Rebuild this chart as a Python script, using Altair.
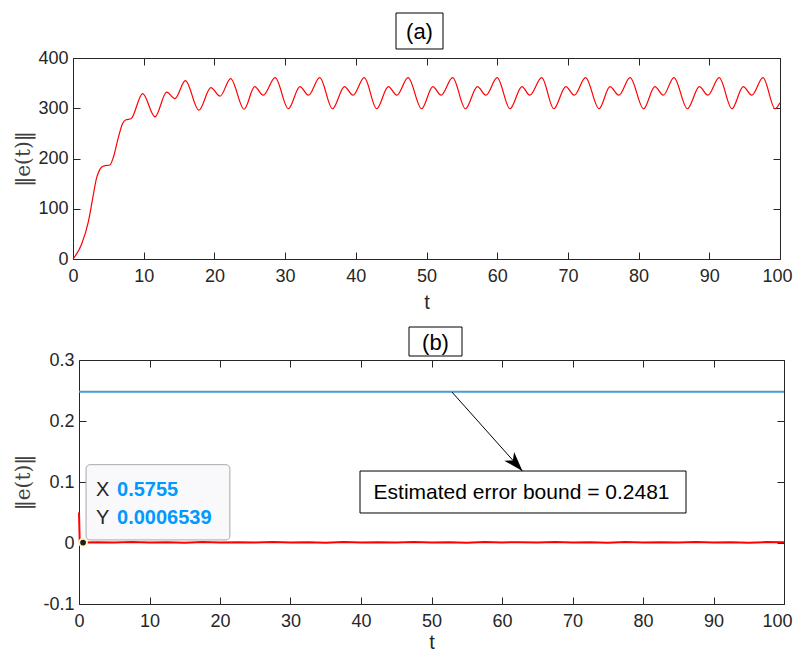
import altair as alt
import pandas as pd

# ---------------- data ----------------
t_a = [0, 1.2, 2.2, 2.8, 3.35, 3.6, 4.06, 4.6, 5.2, 5.7, 6.4, 7.0, 7.5, 8.2,
       9.85, 11.6, 13.25, 14.4, 15.9, 17.8, 19.5, 20.8, 22.3, 24.2, 25.7, 26.9, 28.6,
       30.45, 32.1, 33.3, 34.9, 36.7, 38.4, 39.6, 41.2, 42.95, 44.6, 45.8, 47.4,
       49.3, 50.9, 52.05, 53.7, 55.5, 57.2, 58.4, 60.0, 61.8, 63.5, 64.6, 66.3,
       68.0, 69.7, 70.9, 72.5, 74.4, 75.95, 77.2, 78.8, 80.7, 82.3, 83.5, 85.0,
       86.9, 88.6, 89.8, 91.4, 93.2, 94.8, 96.0, 97.6, 99.3, 100]
e_a = [0, 29, 76, 122, 162, 172, 183, 186, 187, 202, 241, 269, 277, 279,
       329, 283, 332, 319, 355, 296, 341, 324, 359, 298, 343, 326, 361,
       299, 343, 326, 361, 299, 343, 326, 361, 299, 343, 326, 361,
       299, 343, 326, 361, 299, 343, 326, 361, 299, 343, 326, 361,
       299, 343, 326, 361, 299, 343, 326, 361, 299, 343, 326, 361,
       299, 343, 326, 361, 299, 343, 326, 361, 299, 311]

t_b = [0, 0.1, 0.5755, 2.5, 5, 7.5, 10, 12.5, 15, 17.5, 20, 22.5, 25, 27.5, 30,
       32.5, 35, 37.5, 40, 42.5, 45, 47.5, 50, 52.5, 55, 57.5, 60, 62.5, 65, 67.5,
       70, 72.5, 75, 77.5, 80, 82.5, 85, 87.5, 90, 92.5, 95, 97.5, 100]
e_b = [0.05, 0.003, 0.00065,
       0.0014, 0.0007, 0.0016, 0.0009, 0.0013, 0.0006, 0.0015, 0.0010, 0.0012, 0.0007,
       0.0016, 0.0008, 0.0013, 0.0006, 0.0015, 0.0009, 0.0012, 0.0007, 0.0016, 0.0008,
       0.0014, 0.0006, 0.0015, 0.0010, 0.0012, 0.0007, 0.0016, 0.0008, 0.0013, 0.0006,
       0.0015, 0.0009, 0.0012, 0.0007, 0.0016, 0.0008, 0.0014, 0.0006, 0.0015, 0.0011]

bound_t = [0, 100]
bound_e = [0.2481, 0.2481]

x_ticks = [0, 10, 20, 30, 40, 50, 60, 70, 80, 90, 100]
ya_ticks = [0, 100, 200, 300, 400]
yb_ticks = [-0.1, 0, 0.1, 0.2, 0.3]

tip_t = [0.5755]
tip_e = [0.0006539]
tip_names = ["X", "Y"]
tip_values = ["0.5755", "0.0006539"]
tip_rows = [0.0864, 0.0416]
tip_box_t = [1.0, 21.4]
tip_box_e = [0.005, 0.1284]

note_text = ["Estimated error bound = 0.2481"]
note_pos = [62.77, 0.0823]
note_box_t = [39.86, 86.1]
note_box_e = [0.0492, 0.118]
arrow_t = [52.9, 62.9]
arrow_e = [0.2475, 0.118]

# ---------------- styling helpers ----------------
AX = "#262626"
SANS = "Liberation Sans"
SERIF = "DejaVu Serif"
TICK = {"expr": "-7"}

WA, HA = 707, 201
SHIFT_B = 6            # panel (b) plot starts 6px to the right of panel (a)
WB, HB = 705 + SHIFT_B, 244


def base_axis(orient, values, labels):
    return dict(orient=orient, values=values, labels=labels, ticks=True,
                tickSize=TICK, tickColor=AX, tickWidth=1, minExtent=0,
                domain=True, domainColor=AX, domainWidth=1, grid=False)


def xaxis(orient, labels, title_y=None, last_shift=0):
    kw = base_axis(orient, x_ticks, labels)
    if labels:
        kw.update(labelFont=SANS, labelFontSize=18, labelColor=AX,
                  labelPadding=15, labelFlush=False, labelOverlap=False)
        if last_shift:
            kw["labelOffset"] = {"condition": {"test": "datum.value == 100",
                                               "value": last_shift}, "value": 0}
    if title_y is not None:
        kw.update(title="t", titleFont=SANS, titleFontSize=20, titleColor=AX,
                  titleFontWeight="normal", titleBaseline="alphabetic", titleY=title_y)
    else:
        kw["title"] = None
    return alt.Axis(**kw)


def yaxis(orient, values, labels, title_x=None, title_y=None, lexpr=None, offset=0):
    kw = base_axis(orient, values, labels)
    if offset:
        kw["offset"] = offset
    if labels:
        kw.update(labelFont=SANS, labelFontSize=18, labelColor=AX,
                  labelPadding=12, labelFlush=False, labelOverlap=False)
        if lexpr:
            kw["labelExpr"] = lexpr
    if title_x is not None:
        kw.update(title="‖e(t)‖", titleFont=SERIF, titleFontSize=20, titleColor="#404040",
                  titleFontWeight="normal", titleX=title_x, titleY=title_y)
    else:
        kw["title"] = None
    return alt.Axis(**kw)


# ---------------- panel (a) ----------------
df_a = pd.DataFrame({"t": t_a, "e": e_a})
xs_a = alt.Scale(domain=[0, 100], nice=False, zero=False)
ys_a = alt.Scale(domain=[0, 400], nice=False)

line_a = alt.Chart(df_a).mark_line(color="#FF0000", strokeWidth=1.2,
                                   interpolate="monotone").encode(
    x=alt.X("t:Q", scale=xs_a, axis=xaxis("bottom", True, title_y=49, last_shift=-3)),
    y=alt.Y("e:Q", scale=ys_a, axis=yaxis("left", ya_ticks, True, title_x=-40, title_y=HA / 2)),
)
mirror_a = alt.Chart(df_a).mark_point(opacity=0).encode(
    x=alt.X("t:Q", scale=xs_a, axis=xaxis("top", False)),
    y=alt.Y("e:Q", scale=ys_a, axis=yaxis("right", ya_ticks, False)),
)
lab_a = pd.DataFrame({"lab": ["(a)"]})
box_a = alt.Chart(lab_a).mark_rect(fill="white", stroke="black", strokeWidth=1).encode(
    x=alt.value(323), x2=alt.value(370), y=alt.value(-45), y2=alt.value(-9))
txt_a = alt.Chart(lab_a).mark_text(font=SANS, fontSize=22, color="black").encode(
    x=alt.value(346.5), y=alt.value(-26), text="lab:N")

panel_a = alt.layer(line_a, mirror_a, box_a, txt_a).resolve_axis(
    x="independent", y="independent").properties(width=WA, height=HA)

# ---------------- panel (b) ----------------
df_b = pd.DataFrame({"t": t_b, "e": e_b})
xs_b = alt.Scale(domain=[0, 100], range=[SHIFT_B, WB], nice=False, zero=False)
ys_b = alt.Scale(domain=[-0.1, 0.3], nice=False, zero=False)
lexpr_b = "datum.value == 0 ? '0' : toString(round(datum.value*10)/10)"

line_b = alt.Chart(df_b).mark_line(color="#FF0000", strokeWidth=2).encode(
    x=alt.X("t:Q", scale=xs_b, axis=xaxis("bottom", True, title_y=44, last_shift=-7)),
    y=alt.Y("e:Q", scale=ys_b, axis=yaxis("left", yb_ticks, True, title_x=-46,
                                         title_y=HB / 2, lexpr=lexpr_b, offset=-SHIFT_B)),
)
mirror_b = alt.Chart(df_b).mark_point(opacity=0).encode(
    x=alt.X("t:Q", scale=xs_b, axis=xaxis("top", False)),
    y=alt.Y("e:Q", scale=ys_b, axis=yaxis("right", yb_ticks, False)),
)

df_bound = pd.DataFrame({"t": bound_t, "e": bound_e})
bound_line = alt.Chart(df_bound).mark_line(color="#4A9AD4", strokeWidth=2).encode(
    x=alt.X("t:Q", scale=xs_b, axis=None), y=alt.Y("e:Q", scale=ys_b, axis=None))

df_arrow = pd.DataFrame({"t0": [arrow_t[0]], "e0": [arrow_e[0]],
                         "t1": [arrow_t[1]], "e1": [arrow_e[1]]})
arrow_line = alt.Chart(df_arrow).mark_rule(color="black", strokeWidth=1).encode(
    x=alt.X("t0:Q", scale=xs_b, axis=None), y=alt.Y("e0:Q", scale=ys_b, axis=None),
    x2="t1:Q", y2="e1:Q")
arrow_head = alt.Chart(df_arrow).mark_point(
    shape="M0,0 L0.6,1.8 L0,1.3 L-0.6,1.8 Z", filled=True, color="black",
    opacity=1, size=484, angle=138).encode(
    x=alt.X("t1:Q", scale=xs_b, axis=None), y=alt.Y("e1:Q", scale=ys_b, axis=None))

df_note_box = pd.DataFrame({"t0": [note_box_t[0]], "t1": [note_box_t[1]],
                            "e0": [note_box_e[0]], "e1": [note_box_e[1]]})
note_box = alt.Chart(df_note_box).mark_rect(fill="white", stroke="black", strokeWidth=1).encode(
    x=alt.X("t0:Q", scale=xs_b, axis=None), x2="t1:Q",
    y=alt.Y("e0:Q", scale=ys_b, axis=None), y2="e1:Q")
df_note = pd.DataFrame({"t": [note_pos[0]], "e": [note_pos[1]], "txt": note_text})
note = alt.Chart(df_note).mark_text(font=SANS, fontSize=21, color="black").encode(
    x=alt.X("t:Q", scale=xs_b, axis=None), y=alt.Y("e:Q", scale=ys_b, axis=None),
    text="txt:N")

df_tip_box = pd.DataFrame({"t0": [tip_box_t[0]], "t1": [tip_box_t[1]],
                           "e0": [tip_box_e[0]], "e1": [tip_box_e[1]]})
tip_box = alt.Chart(df_tip_box).mark_rect(fill="#F9F9FC", stroke="#A8A8A8", strokeWidth=1,
                                          cornerRadius=4).encode(
    x=alt.X("t0:Q", scale=xs_b, axis=None), x2="t1:Q",
    y=alt.Y("e0:Q", scale=ys_b, axis=None), y2="e1:Q")
df_tip_txt = pd.DataFrame({"name": tip_names, "val": tip_values, "e": tip_rows,
                           "tn": [2.4, 2.4], "tv": [5.4, 5.4]})
tip_names_m = alt.Chart(df_tip_txt).mark_text(font=SANS, fontSize=20, color=AX,
                                              align="left").encode(
    x=alt.X("tn:Q", scale=xs_b, axis=None), y=alt.Y("e:Q", scale=ys_b, axis=None),
    text="name:N")
tip_vals_m = alt.Chart(df_tip_txt).mark_text(font=SANS, fontSize=20, color="#0099FF",
                                             fontWeight="bold", align="left").encode(
    x=alt.X("tv:Q", scale=xs_b, axis=None), y=alt.Y("e:Q", scale=ys_b, axis=None),
    text="val:N")
df_tip = pd.DataFrame({"t": tip_t, "e": tip_e})
tip_dot = alt.Chart(df_tip).mark_point(shape="circle", filled=True, fill="#1E1E1E",
                                       stroke="#FFF6C8", strokeWidth=2, size=60,
                                       opacity=1).encode(
    x=alt.X("t:Q", scale=xs_b, axis=None), y=alt.Y("e:Q", scale=ys_b, axis=None))

lab_b = pd.DataFrame({"lab": ["(b)"]})
box_b = alt.Chart(lab_b).mark_rect(fill="white", stroke="black", strokeWidth=1).encode(
    x=alt.value(336), x2=alt.value(389), y=alt.value(-33), y2=alt.value(-4))
txt_b = alt.Chart(lab_b).mark_text(font=SANS, fontSize=22, color="black").encode(
    x=alt.value(362.5), y=alt.value(-17), text="lab:N")

panel_b = alt.layer(bound_line, line_b, mirror_b, arrow_line, arrow_head, note_box, note,
                    tip_box, tip_names_m, tip_vals_m, tip_dot, box_b, txt_b).resolve_axis(
    x="independent", y="independent").properties(width=WB, height=HB)

chart = alt.vconcat(panel_a, panel_b, spacing=14).configure_view(
    stroke=None).properties(background="white",
                            padding={"left": 5, "top": 4, "right": 0, "bottom": 0})

chart.save("out.html", embed_options={"renderer": "svg", "actions": False})
